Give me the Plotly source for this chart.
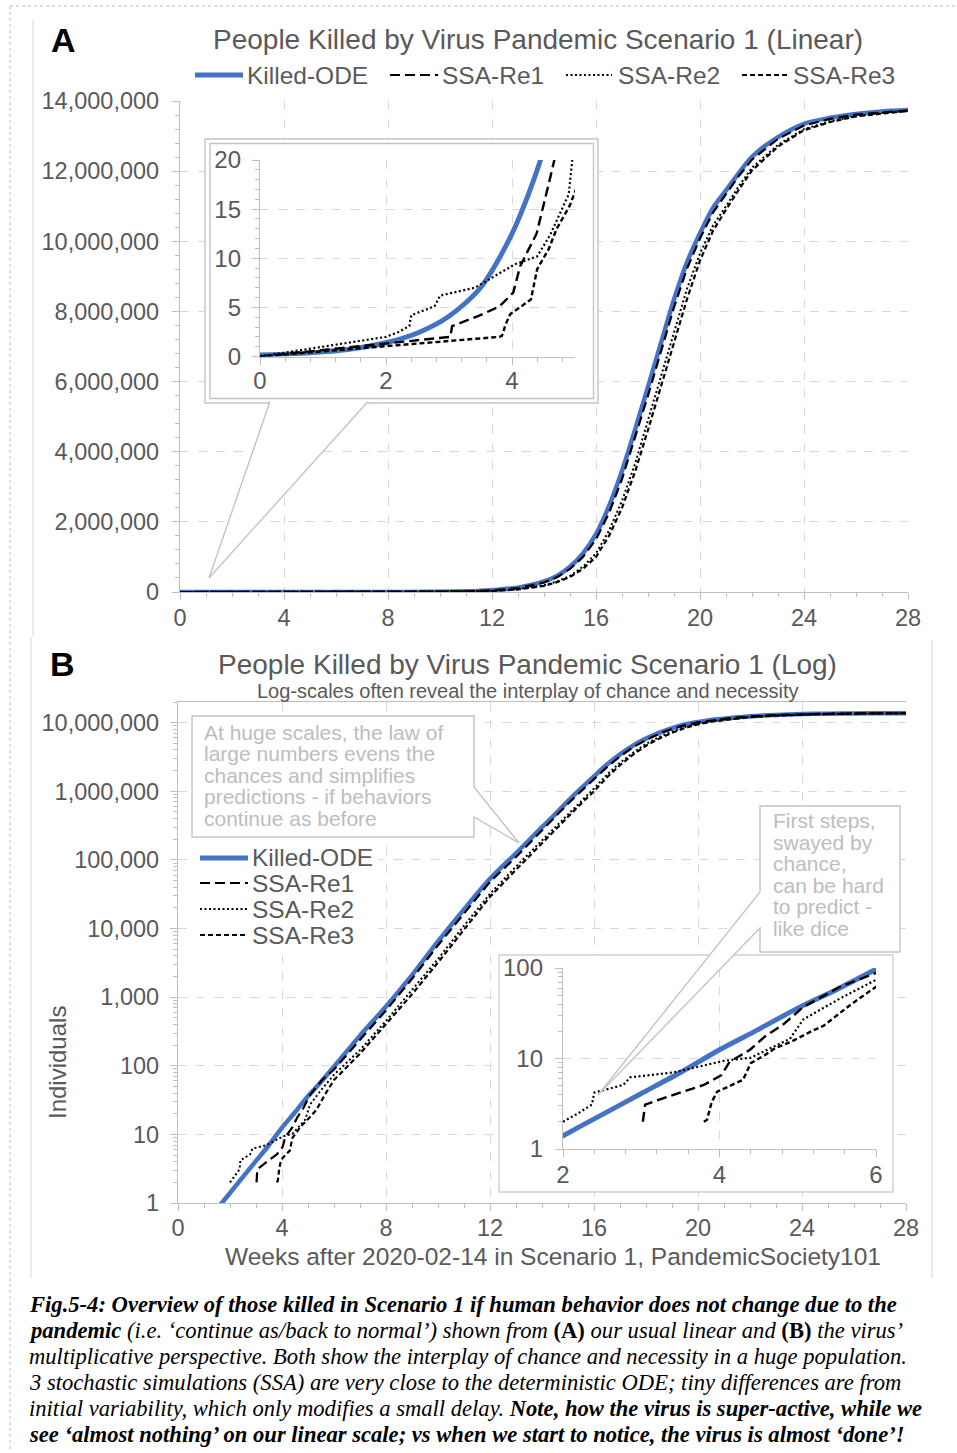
import plotly.graph_objects as go

W, H = 957, 1453
SANS = "Liberation Sans, Arial, Helvetica, sans-serif"
SERIF = "Liberation Serif, Times New Roman, serif"
BLUE = "#4472C4"
GRID = "#D9D9D9"
AXC = "#BFBFBF"
TXT = "#595959"
BOXC = "#C4C4C4"
NOTE = "#BDBDBD"

# ---------------- data ----------------
late_weeks = [7, 8, 9, 10, 11, 12, 13, 14, 14.5, 15, 15.5, 16, 16.5, 17, 17.5,
              18, 18.5, 19, 19.5, 20, 20.5, 21, 21.5, 22, 23, 24, 25, 26, 27, 28]

ode_weeks = [0, 0.5, 1, 1.5, 2, 2.5, 3, 3.5, 4, 4.5, 5, 5.5, 6] + late_weeks
ode_killed = [0.15, 0.27, 0.47, 0.82, 1.4, 2.4, 4.1, 7.0, 12.5, 21, 36, 58, 97,
              275, 730, 2100, 6500, 19000, 53000, 125000, 300000, 460000, 720000,
              1100000, 1650000, 2450000, 3450000, 4620000, 5850000, 7100000,
              8340000, 9400000, 10230000, 10950000, 11450000, 11950000, 12410000,
              12970000, 13350000, 13520000, 13630000, 13700000, 13740000]

re1_weeks = [0, 3.02, 3.05, 3.46, 3.8, 4.02, 4.13, 4.39, 4.58, 4.82, 5.07, 5.54, 6.0] + late_weeks
re1_killed = [0, 2, 3.1, 4.1, 5.1, 6.5, 9.2, 12.5, 17.5, 24, 37, 62, 88,
              240, 640, 1850, 5700, 16500, 48000, 110000, 270000, 420000, 660000,
              1000000, 1500000, 2250000, 3220000, 4380000, 5600000, 6860000,
              8120000, 9220000, 10080000, 10820000, 11350000, 11870000, 12330000,
              12920000, 13300000, 13490000, 13610000, 13680000, 13730000]

re2_weeks = [0, 2.0, 2.2, 2.37, 2.4, 2.77, 2.86, 3.41, 4.05, 4.4, 4.6, 4.9, 5.07, 5.54, 6.0] + late_weeks
re2_killed = [0, 2, 2.5, 3.1, 4.2, 5.1, 6.2, 7.0, 9.4, 10.2, 12.3, 16.5, 27, 46, 74,
              170, 450, 1250, 3600, 11000, 32000, 80000, 190000, 300000, 460000,
              720000, 1100000, 1750000, 2600000, 3650000, 4900000, 6150000,
              7400000, 8650000, 9650000, 10450000, 11000000, 11580000, 12100000,
              12750000, 13200000, 13420000, 13570000, 13660000, 13720000]

re3_weeks = [0, 3.8, 3.84, 3.9, 3.97, 4.3, 4.4, 4.58, 4.71, 4.92, 5.02, 5.16, 5.33, 5.67, 6.0] + late_weeks
re3_killed = [0, 2, 2.1, 3.3, 4.3, 5.8, 8.9, 10.9, 13, 15.4, 17.1, 19.7, 23, 39, 62,
              150, 400, 1100, 3200, 9800, 29000, 72000, 175000, 280000, 430000,
              660000, 1000000, 1600000, 2400000, 3420000, 4620000, 5850000,
              7100000, 8350000, 9450000, 10300000, 10900000, 11480000, 12020000,
              12700000, 13170000, 13400000, 13560000, 13650000, 13720000]

series_names = ["Killed-ODE", "SSA-Re1", "SSA-Re2", "SSA-Re3"]

title_a = "People Killed by Virus Pandemic Scenario 1 (Linear)"
title_b = "People Killed by Virus Pandemic Scenario 1 (Log)"
subtitle_b = "Log-scales often reveal the interplay of chance and necessity"
x_title = "Weeks after 2020-02-14 in Scenario 1, PandemicSociety101"
y_title = "Individuals"
note_big = ["At huge scales, the law of", "large numbers evens the",
            "chances and simplifies", "predictions - if behaviors",
            "continue as before"]
note_small = ["First steps,", "swayed by", "chance,", "can be hard",
              "to predict -", "like dice"]
caption = [
    "<b><i>Fig.5-4: Overview of those killed in Scenario 1 if human behavior does not change due to the</i></b>",
    "<b><i>pandemic</i></b><i> (i.e. ‘continue as/back to normal’) shown from </i><b>(A)</b><i> our usual linear and </i><b>(B)</b><i> the virus’</i>",
    "<i>multiplicative perspective. Both show the interplay of chance and necessity in a huge population.</i>",
    "<i>3 stochastic simulations (SSA) are very close to the deterministic ODE; tiny differences are from</i>",
    "<i>initial variability, which only modifies a small delay. </i><b><i>Note, how the virus is super-active, while we</i></b>",
    "<b><i>see ‘almost nothing’ on our linear scale; vs when we start to notice, the virus is almost ‘done’!</i></b>",
]

# ---------------- geometry helpers (pixels -> paper) ----------------
def fx(px):
    return px / W

def fy(py):
    return 1 - py / H

MAIN_A = (180, 101, 908, 592)
FILL_A = (205, 139, 598, 403)
INSET_A = (260, 160, 575, 356.5)
MAIN_B = (178, 702, 906, 1203)
FILL_B = (499, 955, 893, 1192)
INSET_B = (563, 968, 876, 1149)

def xdom(box):
    return [fx(box[0]), fx(box[2])]

def ydom(box):
    return [fy(box[3]), fy(box[1])]

STY = [
    dict(color=BLUE, width=4.5),
    dict(color="black", width=2.2, dash="10px,5px"),
    dict(color="black", width=2.0, dash="2px,2.5px"),
    dict(color="black", width=2.2, dash="5px,3px"),
]
SHAPE = ["spline", "linear", "linear", "linear"]
DATA = [(ode_weeks, ode_killed), (re1_weeks, re1_killed),
        (re2_weeks, re2_killed), (re3_weeks, re3_killed)]

fig = go.Figure()

def add_panel(xa, ya, log, wscale=1.0):
    for i, (xs, ys) in enumerate(DATA):
        if log:
            pts = [(x, y) for x, y in zip(xs, ys) if y > 0]
            xs, ys = [p[0] for p in pts], [p[1] for p in pts]
        st = dict(STY[i])
        st["width"] = st["width"] * wscale
        fig.add_trace(go.Scatter(x=xs, y=ys, mode="lines", name=series_names[i],
                                 line=dict(shape=SHAPE[i], smoothing=0.8, **st),
                                 xaxis=xa, yaxis=ya, showlegend=False,
                                 hoverinfo="skip"))

def add_filler(xa, ya):
    fig.add_trace(go.Scatter(x=[None], y=[None], mode="lines", xaxis=xa, yaxis=ya,
                             showlegend=False, hoverinfo="skip"))

# order matters: each later subplot is painted over the earlier ones
add_panel("x", "y", False)
add_filler("x2", "y2")
add_panel("x3", "y3", False, 1.1)
add_panel("x4", "y4", True)
add_filler("x5", "y5")
add_panel("x6", "y6", True, 1.1)

def axis(box, horiz, rng, anchor, size, dtick, minor_dtick, typ="linear", **kw):
    a = dict(domain=xdom(box) if horiz else ydom(box), range=rng, anchor=anchor,
             type=typ, showline=True, linecolor=AXC, linewidth=1.3,
             ticks="outside", ticklen=7, tickwidth=1.3, tickcolor=AXC,
             dtick=dtick, tick0=0, automargin=False,
             minor=dict(ticks="outside", ticklen=4, tickwidth=1.1, tickcolor=AXC,
                        dtick=minor_dtick, showgrid=False),
             showgrid=True, gridcolor=GRID, gridwidth=1, griddash="dash",
             zeroline=False, fixedrange=True,
             tickfont=dict(family=SANS, size=size, color=TXT))
    a.update(kw)
    return a

def filler_axis(box, horiz, anchor):
    return dict(domain=xdom(box) if horiz else ydom(box), range=[0, 1], anchor=anchor,
                visible=False, showgrid=False, zeroline=False, fixedrange=True,
                automargin=False)

fig.update_layout(
    width=W, height=H, margin=dict(l=0, r=0, t=0, b=0, pad=0, autoexpand=False),
    paper_bgcolor="white", plot_bgcolor="white", showlegend=False,
    xaxis=axis(MAIN_A, True, [0, 28], "y", 23.5, 4, 1, ticklabelstandoff=-2),
    yaxis=axis(MAIN_A, False, [0, 14000000], "x", 23.5, 2000000, 400000,
               tickformat=",d", ticklabelstandoff=8),
    xaxis2=filler_axis(FILL_A, True, "y2"),
    yaxis2=filler_axis(FILL_A, False, "x2"),
    xaxis3=axis(INSET_A, True, [0, 5], "y3", 24, 2, 0.4, ticklabelstandoff=-4),
    yaxis3=axis(INSET_A, False, [0, 20], "x3", 24, 5, 1, ticklabelstandoff=6),
    xaxis4=axis(MAIN_B, True, [0, 28], "y4", 23.5, 4, 1, ticklabelstandoff=-3, mirror=True),
    yaxis4=axis(MAIN_B, False, [0, 7.301], "x4", 23.5, 1, "D1", typ="log",
                tickformat=",d", ticklabelstandoff=6),
    xaxis5=filler_axis(FILL_B, True, "y5"),
    yaxis5=filler_axis(FILL_B, False, "x5"),
    xaxis6=axis(INSET_B, True, [2, 6], "y6", 24, 2, 0.4, ticklabelstandoff=-3),
    yaxis6=axis(INSET_B, False, [0, 2], "x6", 24, 1, "D1", typ="log",
                tickformat=",d", ticklabelstandoff=7),
)

# ---------------- decorations ----------------
shapes = []

def seg(x0, y0, x1, y1, color, width, dash=None, layer="above"):
    ln = dict(color=color, width=width)
    if dash:
        ln["dash"] = dash
    shapes.append(dict(type="line", xref="paper", yref="paper", x0=fx(x0), y0=fy(y0),
                       x1=fx(x1), y1=fy(y1), line=ln, layer=layer))

def poly(pts, closed, fill=None, color=BOXC, width=1.4, layer="above"):
    d = "M " + " L ".join(f"{fx(x):.5f},{fy(y):.5f}" for x, y in pts) + (" Z" if closed else "")
    shapes.append(dict(type="path", xref="paper", yref="paper", path=d,
                       fillcolor=fill if fill else "rgba(0,0,0,0)",
                       line=dict(color=color, width=width if width else 0), layer=layer))

# page / frame lines
seg(10, 6, 956, 6, "#BBBBBB", 1, "dot", "below")
seg(10, 6, 10, 1452, "#BBBBBB", 1, "dot", "below")
seg(33, 20, 33, 636, "#D6D6D6", 1, None, "below")
seg(31, 637, 31, 1278, "#D6D6D6", 1, None, "below")
seg(932, 640, 932, 1278, "#D6D6D6", 1, None, "below")

# inset A frame (double) with callout pointer
poly([(270, 403), (205, 403), (205, 139), (598, 139), (598, 403), (368, 403)], False)
poly([(210, 143.5), (593.5, 143.5), (593.5, 398.5), (210, 398.5)], True)
poly([(270, 401.5), (209, 578), (368, 401.5)], False, fill="white")

# inset B frame
poly([(499, 955), (893, 955), (893, 1192), (499, 1192)], True, color="#D0D0D0")

# note callouts in panel B
poly([(192, 716), (474, 716), (474, 787), (519, 843), (474, 817), (474, 837), (192, 837)],
     True, fill="white")
poly([(760, 806), (900, 806), (900, 952), (760, 952), (760, 928), (598, 1095), (760, 892)],
     True, fill="white")

# legend B background
shapes.append(dict(type="rect", xref="paper", yref="paper", x0=fx(193), x1=fx(378),
                   y0=fy(948), y1=fy(842), fillcolor="white", line=dict(width=0),
                   layer="above"))

# legend samples
leg_a = [(195, 243), (390, 438), (566, 612), (742, 790)]
for i, (x0, x1) in enumerate(leg_a):
    st = STY[i]
    seg(x0, 75, x1, 75, st["color"], 5 if i == 0 else st["width"], st.get("dash"))
leg_b_y = [858, 883, 909, 935]
for i, yy in enumerate(leg_b_y):
    st = STY[i]
    seg(200, yy, 248, yy, st["color"], 5 if i == 0 else st["width"], st.get("dash"))

annotations = []

def text(x, y, s, size, color=TXT, xanchor="left", family=SANS, angle=0):
    annotations.append(dict(x=fx(x), y=fy(y), xref="paper", yref="paper", text=s,
                            showarrow=False, xanchor=xanchor, yanchor="middle",
                            textangle=angle, borderpad=0,
                            font=dict(family=family, size=size, color=color)))

text(50, 40, "<b>A</b>", 34, "black")
text(538, 40, title_a, 28, xanchor="center")
text(49, 664, "<b>B</b>", 34, "black")
text(527, 665, title_b, 28, xanchor="center")
text(527, 691, subtitle_b, 20, xanchor="center")

leg_a_text_x = [246, 441, 617, 792]
for i, xx in enumerate(leg_a_text_x):
    text(xx, 75, series_names[i], 24.5)
for i, yy in enumerate(leg_b_y):
    text(251, yy, series_names[i], 24.5)

for i, s in enumerate(note_big):
    text(203, 732 + i * 21.5, s, 21, NOTE)
for i, s in enumerate(note_small):
    text(772, 821 + i * 21.4, s, 21, NOTE)

text(57, 1063, y_title, 24, angle=-90, xanchor="center")
text(553, 1256, x_title, 24.5, xanchor="center")

for i, s in enumerate(caption):
    text(28, 1304 + i * 26, s, 22.6, "black", family=SERIF)

fig.update_layout(shapes=shapes, annotations=annotations)

fig.write_html(
    "out.html", config={"displayModeBar": False},
    post_script=("var d=document.getElementById('{plot_id}');"
                 "d.style.position='fixed';d.style.left='0px';d.style.top='0px';"
                 "document.body.style.margin='0';"
                 "document.documentElement.style.overflow='hidden';"))
